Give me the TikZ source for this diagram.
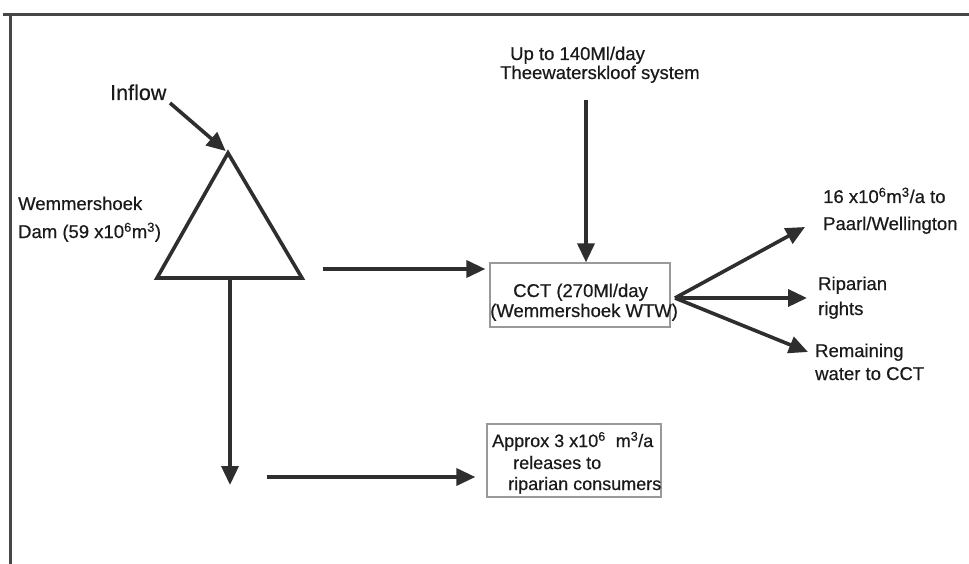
\documentclass[tikz,border=0pt]{standalone}
\usepackage{fontspec}
\setmainfont{Liberation Sans}[FakeBold=0.5]
\usetikzlibrary{arrows.meta}
\definecolor{ink}{HTML}{2E2E2E}
\definecolor{txt}{HTML}{1A1A1A}
\begin{document}
\begin{tikzpicture}[x=1pt,y=-1pt,
  flow/.style={line width=3.6pt,draw=ink,line cap=butt,-{Triangle[length=19pt,width=17pt]}},
  lbl/.style={anchor=base west,inner sep=0pt,font=\fontsize{18.5}{20}\selectfont,text=txt},
  framestroke/.style={draw=black!72,line width=3pt},
  outline/.style={draw=black!40,line width=1.3pt,inner sep=0pt}]
\useasboundingbox[fill=white] (0,0) rectangle (969,564);

% frame
\draw[framestroke] (3,15) -- (969,15);
\draw[framestroke] (10,15) -- (10,564);

% dam (triangle)
\coordinate (apex) at (228,153);
\coordinate (bl) at (157,278);
\coordinate (br) at (302,278);
\draw[line width=3.6pt,draw=ink,line join=miter] (apex) -- (bl) -- (br) -- cycle;
\coordinate (dambase) at (230,278);
\coordinate (damout) at (323,269);

% inflow
\node[lbl,font=\fontsize{21.5}{24}\selectfont] (inflow) at (110,100) {Inflow};
\coordinate (inflowtail) at (170,103);
\draw[flow,shorten >=3pt] (inflowtail) -- (apex);

% dam label
\node[lbl] (wem1) at (18,210) {Wemmershoek};
\node[lbl] (wem2) at (18,238) {Dam (59 x10\textsuperscript{6}m\textsuperscript{3})};

% treatment works
\node[outline,minimum width=180pt,minimum height=64pt] (cct) at (580,295) {};
\node[lbl] (cct1) at (513,297) {CCT (270Ml/day};
\node[lbl] (cct2) at (490,317) {(Wemmershoek WTW)};

% supply from the Theewaterskloof system
\node[lbl] (twk1) at (510,60) {Up to 140Ml/day};
\node[lbl] (twk2) at (500,79) {Theewaterskloof system};
\coordinate (twk) at (586,100);
\draw[flow] (twk) -- (twk |- cct.north);

% dam to treatment works
\draw[flow,shorten >=4pt] (damout) -- (damout -| cct.west);

% release downstream
\coordinate (down) at (230,485);
\draw[flow] (dambase) -- (down);
\node[outline,minimum width=174pt,minimum height=73pt] (rel) at (574,460.5) {};
\node[lbl,font=\fontsize{18}{20}\selectfont] (rel1) at (492,447) {Approx 3 x10\textsuperscript{6}\ \ m\textsuperscript{3}/a};
\node[lbl,font=\fontsize{18}{20}\selectfont] (rel2) at (513,469) {releases to};
\node[lbl,font=\fontsize{18}{20}\selectfont] (rel3) at (508,490) {riparian consumers};
\coordinate (relstart) at (267,477);
\draw[flow,shorten >=11pt] (relstart) -- (relstart -| rel.west);

% distribution from the treatment works
\coordinate (fan) at (675,298);
\coordinate (toPaarl) at (805,227);
\coordinate (toRip) at (807,298);
\coordinate (toRem) at (808,352);
\draw[flow] (fan) -- (toPaarl);
\draw[flow] (fan) -- (toRip);
\draw[flow] (fan) -- (toRem);
\node[lbl] (paarl1) at (823,203) {16 x10\textsuperscript{6}m\textsuperscript{3}/a to};
\node[lbl] (paarl2) at (823,230) {Paarl/Wellington};
\node[lbl] (rip1) at (818,290) {Riparian};
\node[lbl] (rip2) at (818,315) {rights};
\node[lbl] (rem1) at (815,357) {Remaining};
\node[lbl] (rem2) at (815,380) {water to CCT};
\end{tikzpicture}
\end{document}
